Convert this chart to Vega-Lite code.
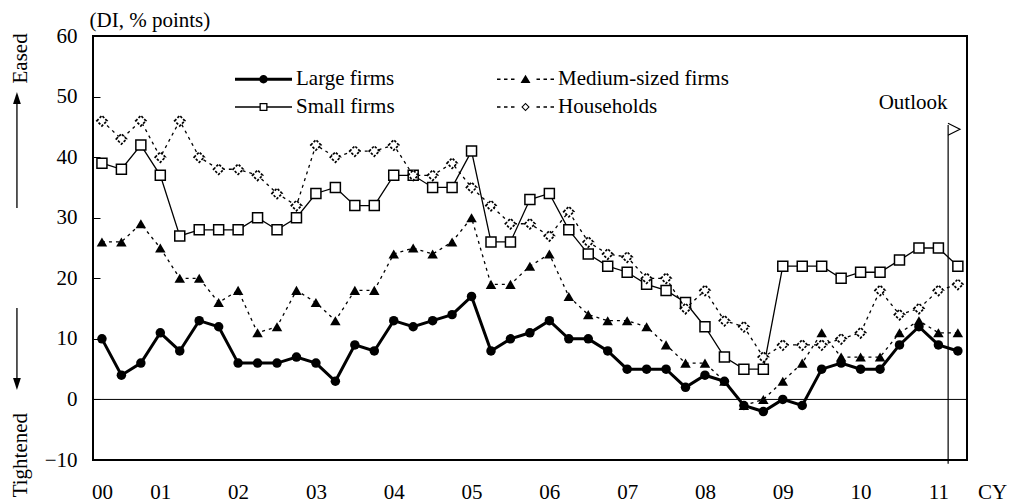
{
  "$schema": "https://vega.github.io/schema/vega-lite/v6.json",
  "width": 874,
  "height": 424,
  "autosize": {"type": "none"},
  "padding": {"left": 93, "top": 36, "right": 44, "bottom": 44},
  "background": "white",
  "config": {
    "view": {"stroke": "black", "strokeWidth": 2},
    "font": "Liberation Serif",
    "axis": {"labelFont": "Liberation Serif", "titleFont": "Liberation Serif", "labelColor": "black", "titleColor": "black", "labelFontSize": 21, "titleFontSize": 21, "titleFontWeight": "normal", "grid": false, "domain": false},
    "text": {"font": "Liberation Serif"}
  },
  "datasets": {
    "dl": [
      {"i": 0, "L": 10, "M": 26, "S": 39, "H": 46},
      {"i": 1, "L": 4, "M": 26, "S": 38, "H": 43},
      {"i": 2, "L": 6, "M": 29, "S": 42, "H": 46},
      {"i": 3, "L": 11, "M": 25, "S": 37, "H": 40},
      {"i": 4, "L": 8, "M": 20, "S": 27, "H": 46},
      {"i": 5, "L": 13, "M": 20, "S": 28, "H": 40},
      {"i": 6, "L": 12, "M": 16, "S": 28, "H": 38},
      {"i": 7, "L": 6, "M": 18, "S": 28, "H": 38},
      {"i": 8, "L": 6, "M": 11, "S": 30, "H": 37},
      {"i": 9, "L": 6, "M": 12, "S": 28, "H": 34},
      {"i": 10, "L": 7, "M": 18, "S": 30, "H": 32},
      {"i": 11, "L": 6, "M": 16, "S": 34, "H": 42},
      {"i": 12, "L": 3, "M": 13, "S": 35, "H": 40},
      {"i": 13, "L": 9, "M": 18, "S": 32, "H": 41},
      {"i": 14, "L": 8, "M": 18, "S": 32, "H": 41},
      {"i": 15, "L": 13, "M": 24, "S": 37, "H": 42},
      {"i": 16, "L": 12, "M": 25, "S": 37, "H": 37},
      {"i": 17, "L": 13, "M": 24, "S": 35, "H": 37},
      {"i": 18, "L": 14, "M": 26, "S": 35, "H": 39},
      {"i": 19, "L": 17, "M": 30, "S": 41, "H": 35},
      {"i": 20, "L": 8, "M": 19, "S": 26, "H": 32},
      {"i": 21, "L": 10, "M": 19, "S": 26, "H": 29},
      {"i": 22, "L": 11, "M": 22, "S": 33, "H": 29},
      {"i": 23, "L": 13, "M": 24, "S": 34, "H": 27},
      {"i": 24, "L": 10, "M": 17, "S": 28, "H": 31},
      {"i": 25, "L": 10, "M": 14, "S": 24, "H": 26},
      {"i": 26, "L": 8, "M": 13, "S": 22, "H": 24},
      {"i": 27, "L": 5, "M": 13, "S": 21, "H": 23.5},
      {"i": 28, "L": 5, "M": 12, "S": 19, "H": 20},
      {"i": 29, "L": 5, "M": 9, "S": 18, "H": 20},
      {"i": 30, "L": 2, "M": 6, "S": 16, "H": 15},
      {"i": 31, "L": 4, "M": 6, "S": 12, "H": 18},
      {"i": 32, "L": 3, "M": 3, "S": 7, "H": 13},
      {"i": 33, "L": -1, "M": -1, "S": 5, "H": 12},
      {"i": 34, "L": -2, "M": 0, "S": 5, "H": 7},
      {"i": 35, "L": 0, "M": 3, "S": 22, "H": 9},
      {"i": 36, "L": -1, "M": 6, "S": 22, "H": 9},
      {"i": 37, "L": 5, "M": 11, "S": 22, "H": 9},
      {"i": 38, "L": 6, "M": 7, "S": 20, "H": 10},
      {"i": 39, "L": 5, "M": 7, "S": 21, "H": 11},
      {"i": 40, "L": 5, "M": 7, "S": 21, "H": 18},
      {"i": 41, "L": 9, "M": 11, "S": 23, "H": 14},
      {"i": 42, "L": 12, "M": 13, "S": 25, "H": 15},
      {"i": 43, "L": 9, "M": 11, "S": 25, "H": 18},
      {"i": 44, "L": 8, "M": 11, "S": 22, "H": 19}
    ]
  },
  "layer": [
    {
      "data": {"name": "dl"},
      "transform": [{"fold": ["S", "H", "M", "L"], "as": ["s", "v"]}],
      "encoding": {
        "x": {
          "field": "i", "type": "quantitative",
          "scale": {"domain": [-0.46, 44.47], "nice": false, "zero": false},
          "axis": {
            "values": [0, 3, 7, 11, 15, 19, 23, 27, 31, 35, 39, 43],
            "labelExpr": "datum.value < 1 ? '00' : (datum.value < 39 ? '0' + floor((datum.value + 1) / 4) : '' + floor((datum.value + 1) / 4))",
            "ticks": false, "labelPadding": 32, "labelBaseline": "middle", "labelOverlap": false,
            "title": "CY", "titleX": 899, "titleY": 32, "titleBaseline": "middle", "titleAlign": "center"
          }
        },
        "y": {
          "field": "v", "type": "quantitative",
          "scale": {"domain": [-10, 60], "nice": false, "zero": false},
          "axis": {
            "values": [-10, 0, 10, 20, 30, 40, 50, 60],
            "tickSize": -7, "tickColor": "black", "tickWidth": 1, "labelPadding": 23,
            "title": "(DI, % points)", "titleAngle": 0, "titleX": -4, "titleY": -16, "titleAlign": "left", "titleBaseline": "middle"
          }
        }
      },
      "layer": [
        {"transform": [{"filter": "datum.s == 'S'"}], "mark": {"type": "line", "color": "black", "strokeWidth": 1.3}},
        {"transform": [{"filter": "datum.s == 'S'"}], "mark": {"type": "point", "shape": "square", "filled": true, "fill": "white", "stroke": "black", "strokeWidth": 1.5, "size": 100, "opacity": 1}},
        {"transform": [{"filter": "datum.s == 'H'"}], "mark": {"type": "line", "color": "black", "strokeWidth": 1.3, "strokeDash": [3, 4]}},
        {"transform": [{"filter": "datum.s == 'H'"}], "mark": {"type": "point", "shape": "diamond", "filled": true, "fill": "white", "stroke": "black", "strokeWidth": 1.7, "strokeDash": [2.5, 1.5], "size": 105, "opacity": 1}},
        {"transform": [{"filter": "datum.s == 'M'"}], "mark": {"type": "line", "color": "black", "strokeWidth": 1.3, "strokeDash": [3, 4]}},
        {"transform": [{"filter": "datum.s == 'M'"}], "mark": {"type": "point", "shape": "triangle-up", "filled": true, "color": "black", "size": 110, "opacity": 1}},
        {"transform": [{"filter": "datum.s == 'L'"}], "mark": {"type": "line", "color": "black", "strokeWidth": 3}},
        {"transform": [{"filter": "datum.s == 'L'"}], "mark": {"type": "point", "shape": "circle", "filled": true, "color": "black", "size": 90, "opacity": 1}}
      ]
    },
    {
      "data": {"values": [{}]},
      "layer": [
        {"mark": {"type": "rule", "color": "black", "strokeWidth": 1}, "encoding": {"y": {"datum": 0}}},
        {"mark": {"type": "rule", "color": "black", "strokeWidth": 1.2}, "encoding": {"x": {"datum": 43.5}, "y": {"datum": 45.3}, "y2": {"datum": -10.6}}},
        {"mark": {"type": "point", "shape": "M-1,-1L1,0L-1,1", "filled": false, "stroke": "black", "strokeWidth": 1.2, "size": 144, "opacity": 1}, "encoding": {"x": {"datum": 43.8}, "y": {"datum": 44.6}}},
        {"mark": {"type": "text", "text": "Outlook", "fontSize": 21, "align": "center", "baseline": "middle", "color": "black"}, "encoding": {"x": {"datum": 41.7}, "y": {"datum": 48.9}}},
        {"mark": {"type": "text", "text": "Eased", "fontSize": 21, "align": "center", "baseline": "middle", "angle": 270, "color": "black"}, "encoding": {"x": {"datum": -4.16}, "y": {"datum": 56.3}}},
        {"mark": {"type": "text", "text": "Tightened", "fontSize": 21, "align": "center", "baseline": "middle", "angle": 270, "color": "black"}, "encoding": {"x": {"datum": -4.16}, "y": {"datum": -9.2}}},
        {"mark": {"type": "rule", "color": "black", "strokeWidth": 1.3}, "encoding": {"x": {"datum": -4.37}, "y": {"datum": 31.6}, "y2": {"datum": 49.5}}},
        {"mark": {"type": "point", "shape": "M0,-1L0.65,1L-0.65,1Z", "filled": true, "color": "black", "size": 144, "opacity": 1}, "encoding": {"x": {"datum": -4.37}, "y": {"datum": 49.76}}},
        {"mark": {"type": "rule", "color": "black", "strokeWidth": 1.3}, "encoding": {"x": {"datum": -4.37}, "y": {"datum": 15.1}, "y2": {"datum": 3}}},
        {"mark": {"type": "point", "shape": "M0,1L0.65,-1L-0.65,-1Z", "filled": true, "color": "black", "size": 144, "opacity": 1}, "encoding": {"x": {"datum": -4.37}, "y": {"datum": 2.54}}}
      ]
    },
    {
      "data": {"values": [{"s": "Large firms"}, {"s": "Small firms"}, {"s": "Medium-sized firms"}, {"s": "Households"}]},
      "transform": [{"filter": "false"}],
      "mark": {"type": "point", "filled": true, "color": "black", "opacity": 1, "strokeWidth": 0},
      "encoding": {
        "shape": {
          "field": "s", "type": "nominal",
          "scale": {
            "domain": ["Large firms", "Small firms", "Medium-sized firms", "Households"],
            "range": [
              "M-2.85,-0.15H2.85V0.15H-2.85Z M0.42,0A0.42,0.42 0 1,1 -0.42,0A0.42,0.42 0 1,1 0.42,0Z",
              "M-2.85,-0.065H-0.4V0.065H-2.85Z M0.4,-0.065H2.85V0.065H0.4Z M-0.4,-0.4H0.4V0.4H-0.4Z M-0.27,-0.27V0.27H0.27V-0.27Z",
              "M-2.85,-0.07H-2.5V0.07H-2.85Z M-2.15,-0.07H-1.8V0.07H-2.15Z M-1.45,-0.07H-1.1V0.07H-1.45Z M1.1,-0.07H1.45V0.07H1.1Z M1.8,-0.07H2.15V0.07H1.8Z M2.5,-0.07H2.85V0.07H2.5Z M0,-0.45L0.5,0.38H-0.5Z",
              "M-2.85,-0.07H-2.5V0.07H-2.85Z M-2.15,-0.07H-1.8V0.07H-2.15Z M-1.45,-0.07H-1.1V0.07H-1.45Z M1.1,-0.07H1.45V0.07H1.1Z M1.8,-0.07H2.15V0.07H1.8Z M2.5,-0.07H2.85V0.07H2.5Z M0,-0.42L0.42,0L0,0.42L-0.42,0Z M0,-0.27L-0.27,0L0,0.27L0.27,0Z"
            ]
          },
          "legend": {
            "orient": "none", "legendX": 142, "legendY": 32.5, "columns": 2, "columnPadding": 102, "rowPadding": 6, "gridAlign": "each",
            "title": null, "padding": 0, "symbolSize": 400, "symbolOffset": 18, "labelOffset": 22,
            "labelFontSize": 21, "labelFont": "Liberation Serif", "labelColor": "black", "labelLimit": 400,
            "symbolFillColor": "black", "symbolStrokeWidth": 0, "symbolOpacity": 1
          }
        }
      }
    }
  ]
}
